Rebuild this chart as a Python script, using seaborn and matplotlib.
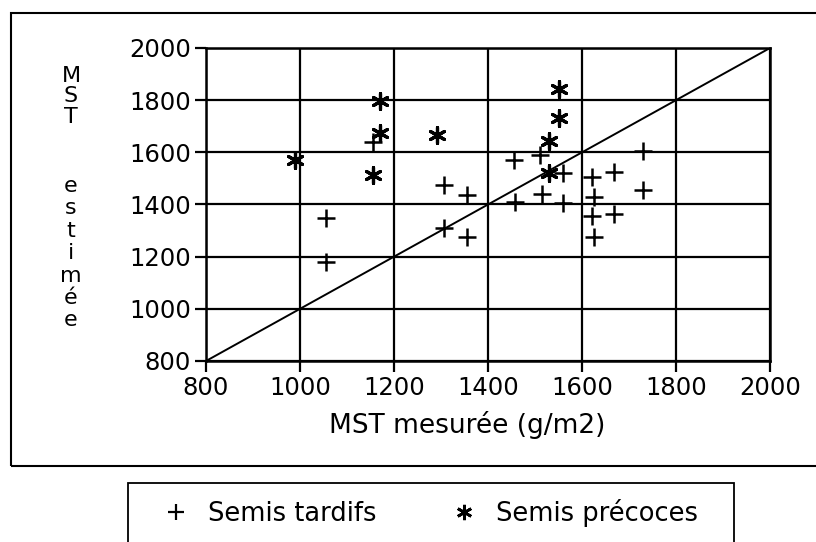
import matplotlib
matplotlib.use("Agg")
import matplotlib.pyplot as plt
from matplotlib.patches import Rectangle
from matplotlib.lines import Line2D
import seaborn as sns
import pandas as pd

# Measured vs estimated dry matter (g/m2)
tardifs_mesure = [1455, 1510, 1560, 1307, 1355, 1458, 1515, 1560, 1622, 1668,
                  1730, 1730, 1625, 1622, 1668, 1625, 1307, 1355, 1055, 1055, 1155]
tardifs_estime = [1570, 1590, 1520, 1473, 1435, 1408, 1440, 1405, 1505, 1525,
                  1605, 1455, 1430, 1355, 1365, 1275, 1310, 1275, 1350, 1180, 1640]

precoces_mesure = [990, 1156, 1170, 1170, 1292, 1530, 1530, 1550, 1550]
precoces_estime = [1570, 1512, 1675, 1795, 1668, 1520, 1645, 1730, 1842]

axis_limits = [800, 2000]
ticks = [800, 1000, 1200, 1400, 1600, 1800, 2000]
labels = ["Semis tardifs", "Semis précoces"]

sns.set_theme(style="white")
plt.rcParams["font.family"] = ["DejaVu Sans"]
plt.rcParams["text.color"] = "black"

W, H = 816, 542
fig = plt.figure(figsize=(W / 100, H / 100), dpi=100)
fig.patch.set_facecolor("white")


def fx(px):
    return px / W


def fy(py):
    return 1 - py / H


ax = fig.add_axes([fx(206), fy(361), fx(770) - fx(206), fy(48) - fy(361)])
ax.set_facecolor("white")

df_t = pd.DataFrame({"x": tardifs_mesure, "y": tardifs_estime})
df_p = pd.DataFrame({"x": precoces_mesure, "y": precoces_estime})

# 1:1 line
sns.lineplot(x=axis_limits, y=axis_limits, ax=ax, color="black", lw=1.4, zorder=3)

sns.scatterplot(data=df_t, x="x", y="y", ax=ax, marker="+", s=150,
                color="black", linewidth=1.8, zorder=4)
sns.scatterplot(data=df_p, x="x", y="y", ax=ax, marker=(6, 2, 0), s=130,
                color="black", linewidth=2.3, zorder=4)

ax.set_xlim(axis_limits)
ax.set_ylim(axis_limits)
ax.set_xticks(ticks)
ax.set_yticks(ticks)
ax.grid(True, color="black", lw=1.6)
ax.set_axisbelow(True)
for s in ax.spines.values():
    s.set_color("black")
    s.set_linewidth(1.8)
ax.tick_params(axis="both", direction="out", length=8, width=1.6,
               colors="black", labelsize=17.5, pad=3,
               bottom=True, left=True)
ax.set_xlabel("")
ax.set_ylabel("")

# x axis title
fig.text(fx(467), fy(425), "MST mesurée (g/m2)", ha="center", va="center",
         fontsize=19, color="black")

# stacked y axis title, one letter per line
fig.text(fx(71), fy(66), "\n".join("MST"), ha="center", va="top",
         multialignment="center", fontsize=16, linespacing=1.03, color="black")
fig.text(fx(71), fy(176), "\n".join("estimée"), ha="center", va="top",
         multialignment="center", fontsize=16, linespacing=1.15, color="black")

# frame around the chart area
fig.patches.append(Rectangle((fx(11), fy(466)), fx(830) - fx(11), fy(13) - fy(466),
                             transform=fig.transFigure, fill=False,
                             edgecolor="black", lw=1.5))
# legend box
fig.patches.append(Rectangle((fx(128), fy(560)), fx(734) - fx(128), fy(483) - fy(560),
                             transform=fig.transFigure, fill=False,
                             edgecolor="black", lw=1.3))

handles = [
    Line2D([], [], ls="none", marker="+", markersize=12, mew=1.6, color="black"),
    Line2D([], [], ls="none", marker=(6, 2, 0), markersize=11, mew=2.0, color="black"),
]
fig.legend(handles, labels, loc="center left", bbox_to_anchor=(fx(163), fy(513)),
           ncol=2, frameon=False, fontsize=18.5, handletextpad=0.75,
           columnspacing=2.9, handlelength=1.0, borderpad=0, borderaxespad=0,
           labelcolor="black")

fig.savefig("out.png", dpi=100, facecolor="white")
